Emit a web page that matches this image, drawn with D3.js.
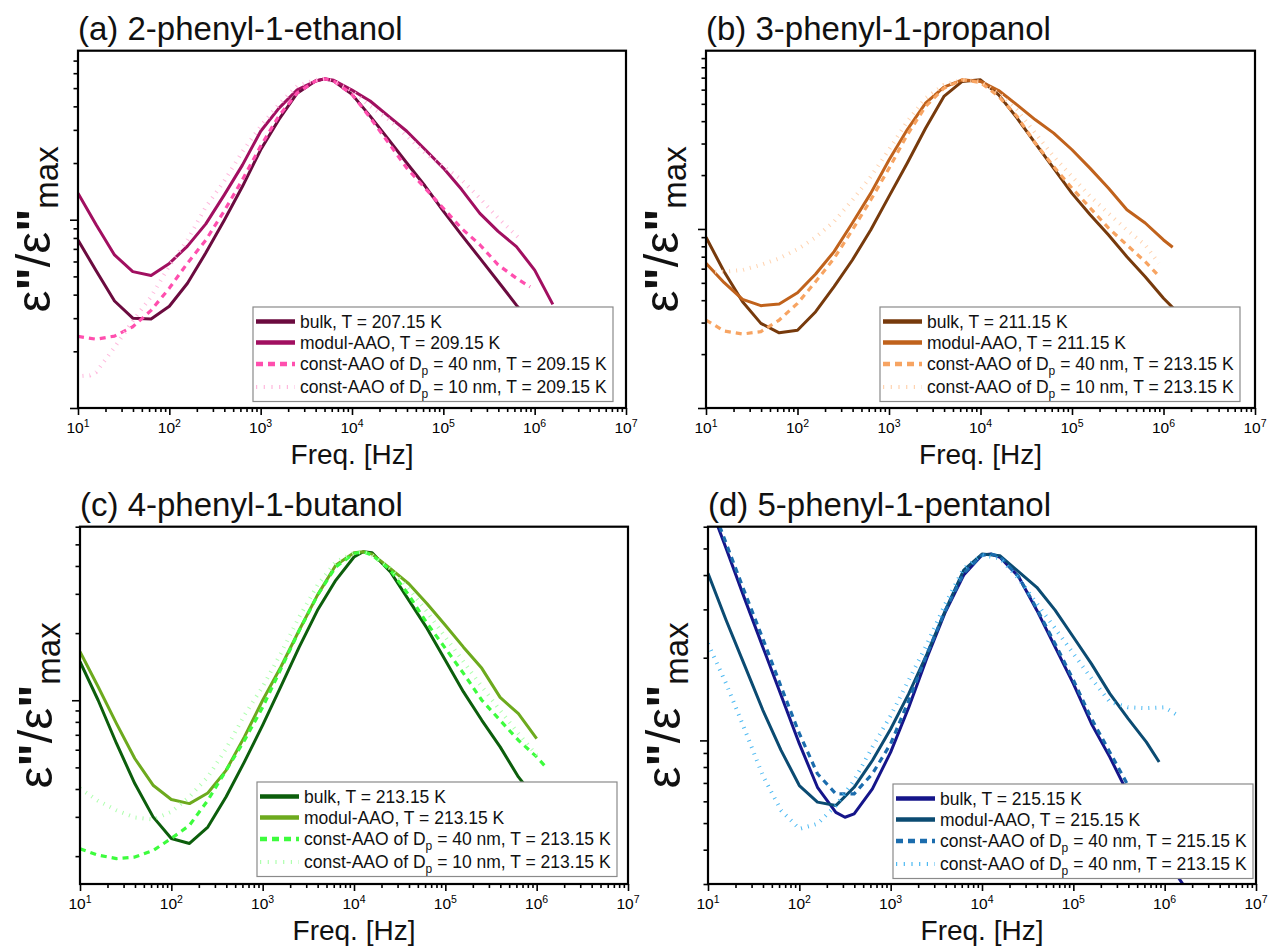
<!DOCTYPE html>
<html>
<head>
<meta charset="utf-8">
<script src="https://cdn.jsdelivr.net/npm/d3@7"></script>
<style>
  body { margin: 0; background: #ffffff; }
  svg { display: block; }
</style>
</head>
<body>
<svg id="chart" width="1268" height="950"></svg>
<script>
// Normalised dielectric loss spectra: [frequency in Hz, ε''/ε''max]

// (a) 2-phenyl-1-ethanol
const aBulk = [[10,0.78],[15.8,0.535],[25.1,0.37],[39.8,0.30],[63.1,0.297],[100,0.347],[158,0.46],[251,0.667],[398,0.99],[631,1.5],[1000,2.35],[1580,3.4],[2510,4.7],[3980,5.45],[5010,5.6],[6310,5.45],[1e4,4.63],[1.58e4,3.55],[2.51e4,2.67],[3.98e4,2.0],[6.31e4,1.51],[1e5,1.11],[1.58e5,0.83],[2.51e5,0.625],[3.98e5,0.47],[6.31e5,0.352],[1e6,0.27]];
const aModul = [[10,1.38],[15.8,0.94],[25.1,0.65],[39.8,0.53],[63.1,0.505],[100,0.586],[158,0.724],[251,0.95],[398,1.35],[631,1.95],[1000,2.95],[1580,3.9],[2510,4.9],[3980,5.45],[5010,5.6],[6310,5.5],[1e4,4.88],[1.58e4,4.27],[2.51e4,3.55],[3.98e4,2.95],[6.31e4,2.36],[1e5,1.88],[1.58e5,1.45],[2.51e5,1.08],[3.98e5,0.867],[6.31e5,0.72],[1e6,0.54],[1.58e6,0.355]];
const aConst40 = [[10,0.24],[15.8,0.232],[25.1,0.241],[39.8,0.27],[63.1,0.33],[100,0.433],[158,0.588],[251,0.78],[398,1.11],[631,1.63],[1000,2.46],[1580,3.55],[2510,4.72],[3980,5.45],[5010,5.6],[6310,5.45],[1e4,4.63],[1.58e4,3.48],[2.51e4,2.56],[3.98e4,1.88],[6.31e4,1.47],[1e5,1.15],[1.58e5,0.9],[2.51e5,0.736],[3.98e5,0.576],[6.31e5,0.489],[8.9e5,0.44]];
const aConst10 = [[11.2,0.148],[13.5,0.149],[15.8,0.155],[25.1,0.21],[39.8,0.29],[63.1,0.39],[100,0.57],[158,0.78],[251,1.17],[398,1.6],[631,2.3],[1000,3.14],[1580,4.1],[2510,5.13],[3980,5.52],[5010,5.6],[6310,5.45],[1e4,4.82],[1.58e4,4.01],[2.51e4,3.41],[3.98e4,2.78],[6.31e4,2.26],[1e5,1.92],[1.58e5,1.63],[2.51e5,1.3],[3.98e5,1.02],[7.08e5,0.78]];

// (b) 3-phenyl-1-propanol
const bBulk = [[10,0.898],[15.8,0.577],[25.1,0.392],[39.8,0.297],[63.1,0.263],[100,0.272],[158,0.345],[251,0.476],[398,0.671],[631,0.987],[1000,1.52],[1580,2.33],[2510,3.65],[3980,5.5],[6310,6.67],[1e4,6.81],[1.58e4,5.61],[2.51e4,4.16],[3.98e4,3.01],[6.31e4,2.18],[1e5,1.58],[1.58e5,1.2],[2.51e5,0.925],[3.98e5,0.70],[6.31e5,0.541],[1e6,0.41],[1.58e6,0.324]];
const bModul = [[10,0.643],[15.8,0.501],[25.1,0.404],[39.8,0.373],[63.1,0.381],[100,0.44],[158,0.56],[251,0.747],[398,1.08],[631,1.58],[1000,2.43],[1580,3.58],[2510,5.04],[3980,6.2],[6310,6.81],[1e4,6.67],[1.58e4,5.93],[2.51e4,4.93],[3.98e4,4.07],[6.31e4,3.43],[1e5,2.77],[1.58e5,2.18],[2.51e5,1.69],[3.98e5,1.28],[6.31e5,1.08],[1e6,0.868],[1.26e6,0.79]];
const bConst40 = [[10,0.31],[15.8,0.269],[25.1,0.259],[39.8,0.267],[63.1,0.31],[100,0.384],[158,0.508],[251,0.685],[398,0.987],[631,1.45],[1000,2.18],[1580,3.35],[2510,4.83],[3980,6.11],[6310,6.81],[1e4,6.58],[1.58e4,5.5],[2.51e4,4.25],[3.98e4,3.01],[6.31e4,2.23],[1e5,1.69],[1.58e5,1.31],[2.51e5,1.01],[3.98e5,0.814],[6.31e5,0.657],[8.9e5,0.546]];
const bConst10 = [[12.6,0.577],[15.8,0.577],[25.1,0.59],[39.8,0.63],[63.1,0.685],[100,0.77],[158,0.898],[251,1.1],[398,1.45],[631,1.96],[1000,2.77],[1580,3.98],[2510,5.38],[3980,6.38],[6310,6.81],[1e4,6.67],[1.58e4,5.73],[2.51e4,4.62],[3.98e4,3.43],[6.31e4,2.54],[1e5,1.96],[1.58e5,1.52],[2.51e5,1.22],[3.98e5,0.987],[6.31e5,0.814],[8.9e5,0.643]];

// (c) 4-phenyl-1-butanol
const cBulk = [[10,1.49],[15.8,1.0],[25.1,0.64],[39.8,0.423],[63.1,0.3],[100,0.24],[158,0.228],[251,0.27],[398,0.369],[631,0.529],[1000,0.773],[1580,1.15],[2510,1.73],[3980,2.53],[6310,3.45],[1e4,4.39],[1.26e4,4.63],[1.58e4,4.58],[2.51e4,3.76],[3.98e4,2.81],[6.31e4,2.1],[1e5,1.51],[1.58e5,1.09],[2.51e5,0.813],[3.98e5,0.618],[6.31e5,0.453],[1e6,0.356]];
const cModul = [[10,1.65],[15.8,1.15],[25.1,0.786],[39.8,0.548],[63.1,0.416],[100,0.359],[158,0.344],[251,0.384],[398,0.485],[631,0.685],[1000,1.0],[1580,1.41],[2510,2.06],[3980,2.96],[6310,4.03],[1e4,4.58],[1.26e4,4.63],[1.58e4,4.52],[2.51e4,3.89],[3.98e4,3.33],[6.31e4,2.71],[1e5,2.17],[1.58e5,1.73],[2.51e5,1.39],[3.98e5,1.03],[6.31e5,0.871],[1e6,0.673]];
const cConst40 = [[10,0.216],[15.8,0.202],[25.1,0.195],[39.8,0.198],[63.1,0.212],[100,0.24],[158,0.275],[251,0.356],[398,0.485],[631,0.66],[1000,0.93],[1580,1.38],[2510,2.05],[3980,2.95],[6310,3.96],[1e4,4.55],[1.26e4,4.63],[1.58e4,4.47],[2.51e4,3.83],[3.98e4,2.96],[6.31e4,2.21],[1e5,1.71],[1.58e5,1.32],[2.51e5,1.0],[3.98e5,0.813],[6.31e5,0.662],[1e6,0.557],[1.26e6,0.502]];
const cConst10 = [[10,0.402],[15.8,0.354],[25.1,0.321],[39.8,0.298],[63.1,0.292],[100,0.316],[158,0.369],[251,0.453],[398,0.607],[631,0.857],[1000,1.15],[1580,1.62],[2510,2.36],[3980,3.28],[6310,4.17],[1e4,4.58],[1.26e4,4.63],[1.58e4,4.47],[2.51e4,3.89],[3.98e4,3.17],[6.31e4,2.49],[1e5,1.92],[1.58e5,1.49],[2.51e5,1.15],[3.98e5,0.902],[6.31e5,0.709],[1e6,0.567]];

// (d) 5-phenyl-1-pentanol
const dBulk = [[10,7.5],[15.8,5.0],[25.1,3.29],[39.8,2.19],[63.1,1.46],[100,0.973],[158,0.675],[251,0.547],[316,0.525],[398,0.54],[631,0.666],[1000,0.906],[1580,1.32],[2510,2.01],[3980,2.94],[6310,4.0],[1e4,4.73],[1.26e4,4.77],[1.58e4,4.64],[2.51e4,3.95],[3.98e4,2.98],[6.31e4,2.19],[1e5,1.61],[1.58e5,1.15],[2.51e5,0.869],[3.98e5,0.639],[6.31e5,0.483],[1e6,0.375],[1.58e6,0.3]];
const dModul = [[10,4.06],[15.8,2.74],[25.1,1.88],[39.8,1.29],[63.1,0.92],[100,0.685],[158,0.596],[251,0.579],[398,0.675],[631,0.845],[1000,1.1],[1580,1.48],[2510,2.07],[3980,2.98],[6310,4.17],[1e4,4.77],[1.58e4,4.7],[2.51e4,4.12],[3.98e4,3.61],[6.31e4,2.98],[1e5,2.38],[1.58e5,1.9],[2.51e5,1.48],[3.98e5,1.2],[6.31e5,0.986],[8.7e5,0.834]];
const dConst40 = [[10,7.8],[15.8,5.22],[25.1,3.48],[39.8,2.35],[63.1,1.57],[100,1.06],[158,0.756],[251,0.639],[398,0.639],[631,0.756],[1000,0.973],[1580,1.4],[2510,2.07],[3980,2.98],[6310,4.06],[1e4,4.73],[1.26e4,4.77],[1.58e4,4.67],[2.51e4,3.95],[3.98e4,3.02],[6.31e4,2.25],[1e5,1.66],[1.58e5,1.2],[2.51e5,0.906],[3.98e5,0.685],[6.31e5,0.525],[1e6,0.408]];
const dConst10 = [[10,2.25],[15.8,1.61],[25.1,1.1],[39.8,0.745],[63.1,0.556],[100,0.476],[158,0.497],[251,0.579],[398,0.715],[631,0.946],[1000,1.23],[1580,1.66],[2510,2.25],[3980,3.15],[6310,4.23],[1e4,4.73],[1.58e4,4.6],[2.51e4,3.89],[3.98e4,3.15],[6.31e4,2.56],[1e5,2.07],[1.58e5,1.68],[2.51e5,1.38],[3.98e5,1.32],[6.31e5,1.31],[1e6,1.32],[1.41e6,1.23]];

// Panel titles and legend entries (Dp written as D + subscript p)
const titles = ["(a) 2-phenyl-1-ethanol", "(b) 3-phenyl-1-propanol", "(c) 4-phenyl-1-butanol", "(d) 5-phenyl-1-pentanol"];
const legendA = [["bulk, T = 207.15 K"], ["modul-AAO, T = 209.15 K"], ["const-AAO of D", "p", " = 40 nm, T = 209.15 K"], ["const-AAO of D", "p", " = 10 nm, T = 209.15 K"]];
const legendB = [["bulk, T = 211.15 K"], ["modul-AAO, T = 211.15 K"], ["const-AAO of D", "p", " = 40 nm, T = 213.15 K"], ["const-AAO of D", "p", " = 10 nm, T = 213.15 K"]];
const legendC = [["bulk, T = 213.15 K"], ["modul-AAO, T = 213.15 K"], ["const-AAO of D", "p", " = 40 nm, T = 213.15 K"], ["const-AAO of D", "p", " = 10 nm, T = 213.15 K"]];
const legendD = [["bulk, T = 215.15 K"], ["modul-AAO, T = 215.15 K"], ["const-AAO of D", "p", " = 40 nm, T = 215.15 K"], ["const-AAO of D", "p", " = 40 nm, T = 213.15 K"]];

const freqDomain = [10, 1e7];
const xTitle = "Freq. [Hz]";

// ---------------------------------------------------------------------------
const FONT = '"Liberation Sans", Arial, Helvetica, sans-serif';
const svg = d3.select("#chart");
const defs = svg.append("defs");

const lineStyles = {
  solid: { width: 3, dash: null, legendWidth: 4.5, legendDash: null },
  dash:  { width: 3.2, dash: "6,5", legendWidth: 4.5, legendDash: "7,5" },
  dot:   { width: 4, dash: "1,6", legendWidth: 4, legendDash: "1.2,6.5" }
};

const panels = [
  { key: "a", left: 78, right: 626, top: 50.7, bottom: 408, yDomain: [0.1, 7.9],
    legendX: 253, legendY: 307, legend: legendA, title: titles[0],
    series: [
      { data: aBulk, color: "#6b0b3f", style: "solid" },
      { data: aModul, color: "#a10f60", style: "solid" },
      { data: aConst40, color: "#ff4fae", style: "dash" },
      { data: aConst10, color: "#ffb8dd", style: "dot" } ] },
  { key: "b", left: 706, right: 1255, top: 50.7, bottom: 408, yDomain: [0.1, 9.9],
    legendX: 880, legendY: 307, legend: legendB, title: titles[1],
    series: [
      { data: bBulk, color: "#773a0c", style: "solid" },
      { data: bModul, color: "#c0621c", style: "solid" },
      { data: bConst40, color: "#f7a462", style: "dash" },
      { data: bConst10, color: "#ffd3b0", style: "dot" } ] },
  { key: "c", left: 80, right: 628, top: 526.7, bottom: 884, yDomain: [0.15, 6.0],
    legendX: 257, legendY: 782, legend: legendC, title: titles[2],
    series: [
      { data: cBulk, color: "#0c5e0c", style: "solid" },
      { data: cModul, color: "#6daa1e", style: "solid" },
      { data: cConst40, color: "#3dfc3d", style: "dash" },
      { data: cConst10, color: "#aeffae", style: "dot" } ] },
  { key: "d", left: 708, right: 1256, top: 526.7, bottom: 884, yDomain: [0.3, 6.0],
    legendX: 893, legendY: 784, legend: legendD, title: titles[3],
    series: [
      { data: dBulk, color: "#15158a", style: "solid" },
      { data: dModul, color: "#0b4b72", style: "solid" },
      { data: dConst40, color: "#1b6cad", style: "dash" },
      { data: dConst10, color: "#4cb9f2", style: "dot" } ] }
];

const isDecade = v => Math.abs(Math.log10(v) - Math.round(Math.log10(v))) < 1e-9;

panels.forEach(p => {
  const x = d3.scaleLog().domain(freqDomain).range([p.left, p.right]);
  const y = d3.scaleLog().domain(p.yDomain).range([p.bottom, p.top]);
  const g = svg.append("g").attr("class", "panel-" + p.key);

  // clip region for the curves
  const clipId = "clip-" + p.key;
  defs.append("clipPath").attr("id", clipId)
    .append("rect")
    .attr("x", p.left).attr("y", p.top)
    .attr("width", p.right - p.left).attr("height", p.bottom - p.top);

  // curves
  const line = d3.line().x(d => x(d[0])).y(d => y(d[1])).curve(d3.curveLinear);
  const plot = g.append("g").attr("clip-path", `url(#${clipId})`);
  p.series.forEach(s => {
    const st = lineStyles[s.style];
    plot.append("path")
      .attr("d", line(s.data))
      .attr("fill", "none")
      .attr("stroke", s.color)
      .attr("stroke-width", st.width)
      .attr("stroke-linejoin", "round")
      .attr("stroke-dasharray", st.dash);
  });

  // x axis: decade ticks + minor ticks
  const xTicks = x.ticks();
  const xMajor = xTicks.filter(isDecade);
  const xMinor = xTicks.filter(v => !isDecade(v));
  const xAxisG = g.append("g").attr("transform", `translate(0,${p.bottom})`);
  xAxisG.append("g").call(d3.axisBottom(x).tickValues(xMinor).tickSize(4).tickFormat(""));
  xAxisG.append("g").call(d3.axisBottom(x).tickValues(xMajor).tickSize(7).tickFormat(""));
  xAxisG.selectAll(".domain").remove();
  xAxisG.selectAll(".tick line").attr("stroke", "#000").attr("stroke-width", 1.6);

  const xLabels = g.append("g").attr("font-family", FONT).attr("fill", "#000");
  xMajor.forEach(v => {
    const t = xLabels.append("text")
      .attr("x", x(v)).attr("y", p.bottom + 25)
      .attr("text-anchor", "middle").attr("font-size", 15.5);
    t.append("tspan").text("10");
    t.append("tspan").attr("font-size", 10.5).attr("dy", -6).text(Math.round(Math.log10(v)));
  });

  // y axis: one decade tick + minor ticks, no labels
  const yTicks = y.ticks();
  const yMajor = yTicks.filter(isDecade);
  const yMinor = yTicks.filter(v => !isDecade(v));
  const yAxisG = g.append("g").attr("transform", `translate(${p.left},0)`);
  yAxisG.append("g").call(d3.axisLeft(y).tickValues(yMinor).tickSize(4.5).tickFormat(""));
  yAxisG.append("g").call(d3.axisLeft(y).tickValues(yMajor).tickSize(8).tickFormat(""));
  yAxisG.selectAll(".domain").remove();
  yAxisG.selectAll(".tick line").attr("stroke", "#000").attr("stroke-width", 1.6);

  // frame
  g.append("rect")
    .attr("x", p.left).attr("y", p.top)
    .attr("width", p.right - p.left).attr("height", p.bottom - p.top)
    .attr("fill", "none").attr("stroke", "#000").attr("stroke-width", 2.2);

  // panel title
  g.append("text")
    .attr("x", p.left).attr("y", p.top - 11)
    .attr("font-family", FONT).attr("font-size", 33).attr("fill", "#111")
    .text(p.title);

  // x-axis title
  g.append("text")
    .attr("x", (p.left + p.right) / 2).attr("y", p.bottom + 56)
    .attr("text-anchor", "middle")
    .attr("font-family", FONT).attr("font-size", 28).attr("fill", "#111")
    .text(xTitle);

  // y-axis title: ε''/ε''max
  const cy = (p.top + p.bottom) / 2;
  const yt = g.append("text")
    .attr("transform", `translate(${p.left - 28},${cy}) rotate(-90)`)
    .attr("text-anchor", "middle")
    .attr("font-family", FONT).attr("font-size", 49).attr("fill", "#111");
  yt.append("tspan").text("ε");
  yt.append("tspan").attr("font-weight", "bold").text("\"");
  yt.append("tspan").text("/ε");
  yt.append("tspan").attr("font-weight", "bold").text("\"");
  yt.append("tspan").attr("font-size", 33).attr("dy", 8).text("max");

  // legend
  const lg = g.append("g").attr("transform", `translate(${p.legendX},${p.legendY})`);
  lg.append("rect")
    .attr("width", 360).attr("height", 94.5)
    .attr("fill", "#fff").attr("stroke", "#8a8a8a").attr("stroke-width", 1.2);
  const rowY = [14.5, 35.5, 57, 80];
  p.series.forEach((s, i) => {
    const st = lineStyles[s.style];
    lg.append("line")
      .attr("x1", 3).attr("x2", 42).attr("y1", rowY[i]).attr("y2", rowY[i])
      .attr("stroke", s.color).attr("stroke-width", st.legendWidth)
      .attr("stroke-dasharray", st.legendDash);
    const parts = p.legend[i];
    const t = lg.append("text")
      .attr("x", 47).attr("y", rowY[i] + 6)
      .attr("font-family", FONT).attr("font-size", 17.5).attr("fill", "#111");
    t.append("tspan").text(parts[0]);
    if (parts.length > 1) {
      t.append("tspan").attr("font-size", 12).attr("dy", 5).text(parts[1]);
      t.append("tspan").attr("dy", -5).text(parts[2]);
    }
  });
});
</script>
</body>
</html>
